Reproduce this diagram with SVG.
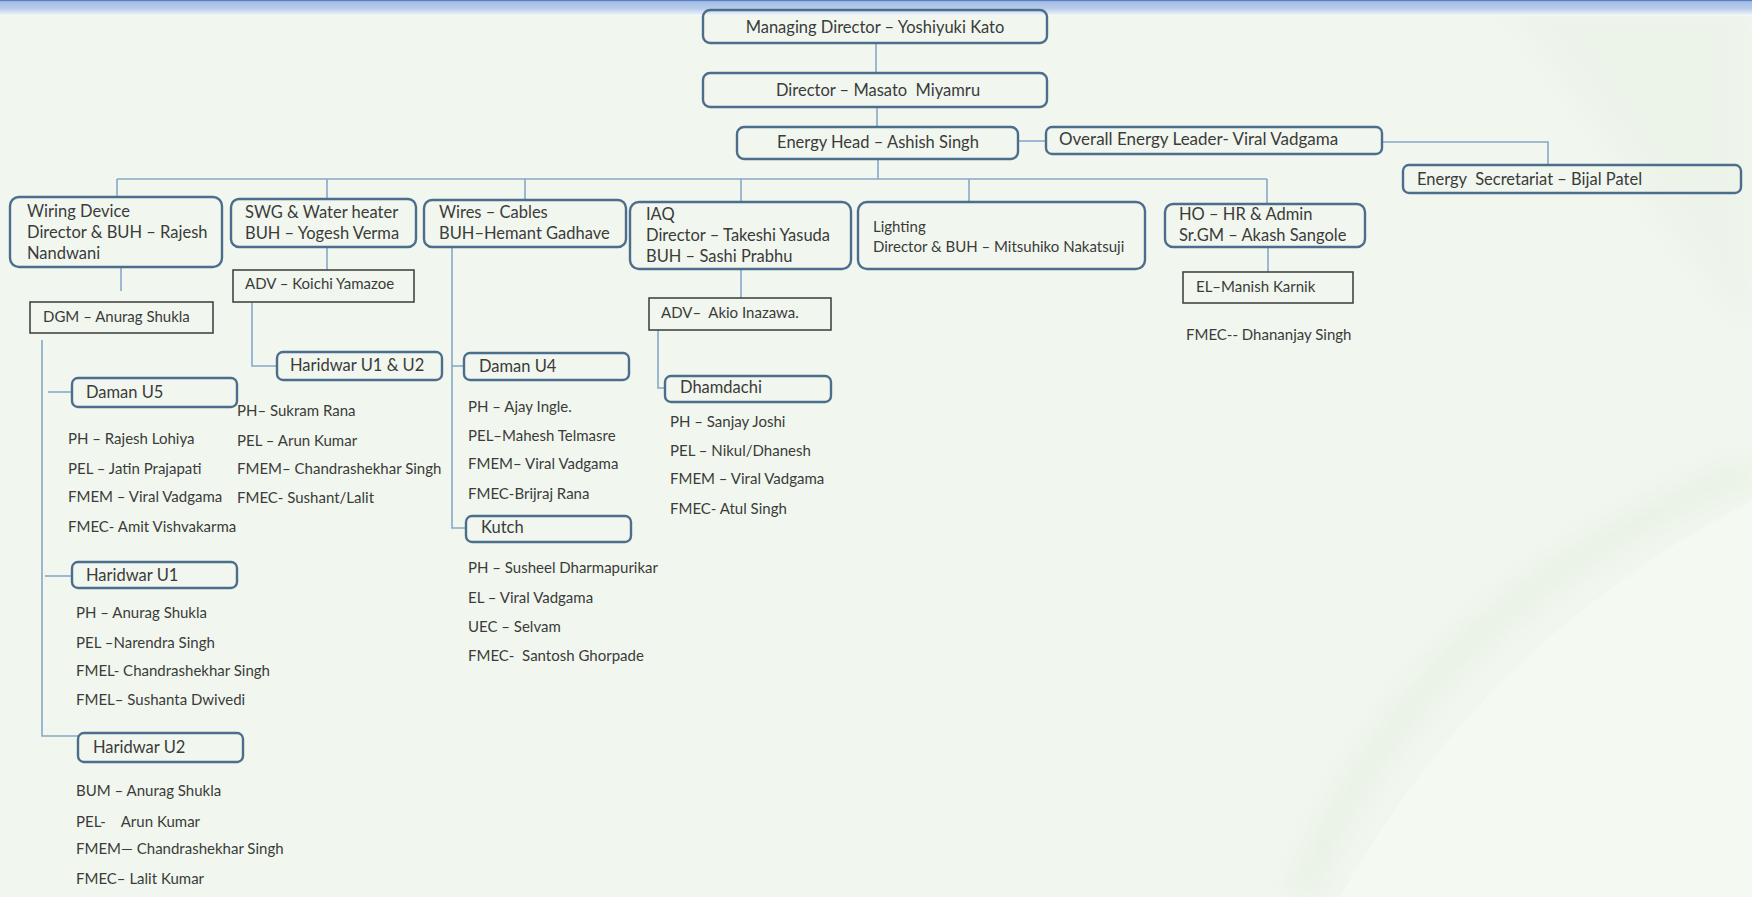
<svg xmlns="http://www.w3.org/2000/svg" width="1752" height="897" viewBox="0 0 1752 897">
<defs>
<linearGradient id="band" x1="0" y1="0" x2="0" y2="1">
<stop offset="0" stop-color="#3565b4"/>
<stop offset="0.1" stop-color="#a5bde5"/>
<stop offset="0.55" stop-color="#b9cdeb"/>
<stop offset="0.75" stop-color="#d6e2f3"/>
<stop offset="1" stop-color="#f7fbf6"/>
</linearGradient>
<filter id="blur" x="-20%" y="-20%" width="140%" height="140%"><feGaussianBlur stdDeviation="14"/></filter>
</defs>
<style>
text{font-family:Lato,"Liberation Sans",sans-serif;fill:#3b3b3b;white-space:pre}
.t1{font-size:16.5px}
.t2{font-size:16.5px}
.t3{font-size:15px}
.ls{font-size:15px}
.mid{text-anchor:middle}
.rb{fill:none;stroke:#4d6d8c;stroke-width:2.4}
.sq{fill:none;stroke:#454545;stroke-width:1.6}
.cn{fill:none;stroke:#86a8c8;stroke-width:1.6}
</style>
<rect width="1752" height="897" fill="#f1f7ee"/>
<g id="background">
<path d="M1300 897 C1380 700 1520 560 1752 470" fill="none" stroke="#e1eadd" stroke-width="24" filter="url(#blur)" opacity="0.6"/>
<path d="M1500 0 C1600 120 1680 260 1752 330 L1752 0 Z" fill="#eaf1e7" filter="url(#blur)" opacity="0.6"/>
<path d="M1340 897 C1450 700 1600 580 1752 500 L1752 897 Z" fill="#f6faf3" opacity="0.6"/>
<rect x="0" y="0" width="1752" height="16" fill="url(#band)"/>
</g>
<g id="connectors">
<path class="cn" d="M876 43V73"/>
<path class="cn" d="M877 107V127"/>
<path class="cn" d="M1018 141H1046"/>
<path class="cn" d="M1382 142H1548V165"/>
<path class="cn" d="M878 159V179"/>
<path class="cn" d="M117 179H1267"/>
<path class="cn" d="M117 179V197M327 179V199M525 179V200M741 179V202M969 179V202M1267 179V204"/>
<path class="cn" d="M121 267V291"/>
<path class="cn" d="M327 247V270"/>
<path class="cn" d="M252 302V366H277"/>
<path class="cn" d="M452 247V528H466"/>
<path class="cn" d="M452 366H464"/>
<path class="cn" d="M741 269V298"/>
<path class="cn" d="M658 330V388H665"/>
<path class="cn" d="M1268 247V272"/>
<path class="cn" d="M42 340V736H78"/>
<path class="cn" d="M48 392H72"/>
<path class="cn" d="M45 576H72"/>
</g>
<g id="md"><rect class="rb" x="703" y="10" width="344" height="33" rx="7"/><text class="t1 mid" x="875" y="33">Managing Director – Yoshiyuki Kato</text></g>
<g id="director"><rect class="rb" x="703" y="73" width="344" height="34" rx="7"/><text class="t1 mid" x="878" y="96">Director – Masato  Miyamru</text></g>
<g id="energy-head"><rect class="rb" x="737" y="127" width="281" height="32" rx="7"/><text class="t1 mid" x="878" y="148">Energy Head – Ashish Singh</text></g>
<g id="overall-leader"><rect class="rb" x="1046" y="127" width="336" height="27" rx="6"/><text class="t2" x="1059" y="145" style="font-size:17px">Overall Energy Leader- Viral Vadgama</text></g>
<g id="secretariat"><rect class="rb" x="1403" y="165" width="338" height="28" rx="6"/><text class="t2" x="1417" y="185">Energy  Secretariat – Bijal Patel</text></g>
<g id="wiring"><rect class="rb" x="10" y="197" width="212" height="70" rx="9"/><text class="t2" x="27" y="217">Wiring Device</text><text class="t2" x="27" y="238">Director &amp; BUH – Rajesh</text><text class="t2" x="27" y="259">Nandwani</text></g>
<g id="swg"><rect class="rb" x="231" y="199" width="185" height="48" rx="8"/><text class="t2" x="245" y="218">SWG &amp; Water heater</text><text class="t2" x="245" y="239">BUH – Yogesh Verma</text></g>
<g id="wires"><rect class="rb" x="424" y="200" width="202" height="47" rx="8"/><text class="t2" x="439" y="218">Wires – Cables</text><text class="t2" x="439" y="239">BUH–Hemant Gadhave</text></g>
<g id="iaq"><rect class="rb" x="630" y="202" width="221" height="67" rx="9"/><text class="t2" x="646" y="220">IAQ</text><text class="t2" x="646" y="241">Director – Takeshi Yasuda</text><text class="t2" x="646" y="262">BUH – Sashi Prabhu</text></g>
<g id="lighting"><rect class="rb" x="858" y="202" width="287" height="67" rx="9"/><text class="t3" x="873" y="232">Lighting</text><text class="t3" x="873" y="252">Director &amp; BUH – Mitsuhiko Nakatsuji</text></g>
<g id="ho"><rect class="rb" x="1165" y="204" width="200" height="43" rx="8"/><text class="t2" x="1179" y="220">HO – HR &amp; Admin</text><text class="t2" x="1179" y="241">Sr.GM – Akash Sangole</text></g>
<g id="adv-koichi"><rect class="sq" x="233" y="270" width="181" height="32"/><text class="ls" x="245" y="289">ADV – Koichi Yamazoe</text></g>
<g id="dgm"><rect class="sq" x="30" y="302" width="183" height="31"/><text class="ls" x="43" y="322">DGM – Anurag Shukla</text></g>
<g id="adv-akio"><rect class="sq" x="649" y="298" width="182" height="32"/><text class="ls" x="661" y="318">ADV–  Akio Inazawa.</text></g>
<g id="el-manish"><rect class="sq" x="1183" y="272" width="170" height="31"/><text class="ls" x="1196" y="292">EL–Manish Karnik</text></g>
<g id="ho-list"><text class="ls" x="1186" y="340">FMEC-- Dhananjay Singh</text></g>
<g id="haridwar-u1u2"><rect class="rb" x="277" y="352" width="165" height="28" rx="6"/><text class="t1" x="290" y="371">Haridwar U1 &amp; U2</text></g>
<g id="haridwar-u1u2-list"><text class="ls" x="237" y="416">PH– Sukram Rana</text><text class="ls" x="237" y="446">PEL – Arun Kumar</text><text class="ls" x="237" y="474">FMEM– Chandrashekhar Singh</text><text class="ls" x="237" y="503">FMEC- Sushant/Lalit</text></g>
<g id="daman-u4"><rect class="rb" x="464" y="353" width="165" height="27" rx="6"/><text class="t1" x="479" y="372">Daman U4</text></g>
<g id="daman-u4-list"><text class="ls" x="468" y="412">PH – Ajay Ingle.</text><text class="ls" x="468" y="441">PEL–Mahesh Telmasre</text><text class="ls" x="468" y="469">FMEM– Viral Vadgama</text><text class="ls" x="468" y="499">FMEC-Brijraj Rana</text></g>
<g id="kutch"><rect class="rb" x="466" y="516" width="165" height="26" rx="6"/><text class="t1" x="481" y="533">Kutch</text></g>
<g id="kutch-list"><text class="ls" x="468" y="573">PH – Susheel Dharmapurikar</text><text class="ls" x="468" y="603">EL – Viral Vadgama</text><text class="ls" x="468" y="632">UEC – Selvam</text><text class="ls" x="468" y="661">FMEC-  Santosh Ghorpade</text></g>
<g id="dhamdachi"><rect class="rb" x="665" y="376" width="166" height="26" rx="6"/><text class="t1" x="680" y="393">Dhamdachi</text></g>
<g id="dhamdachi-list"><text class="ls" x="670" y="427">PH – Sanjay Joshi</text><text class="ls" x="670" y="456">PEL – Nikul/Dhanesh</text><text class="ls" x="670" y="484">FMEM – Viral Vadgama</text><text class="ls" x="670" y="514">FMEC- Atul Singh</text></g>
<g id="daman-u5"><rect class="rb" x="72" y="378" width="165" height="29" rx="6"/><text class="t1" x="86" y="398">Daman U5</text></g>
<g id="daman-u5-list"><text class="ls" x="68" y="444">PH – Rajesh Lohiya</text><text class="ls" x="68" y="474">PEL – Jatin Prajapati</text><text class="ls" x="68" y="502">FMEM – Viral Vadgama</text><text class="ls" x="68" y="532">FMEC- Amit Vishvakarma</text></g>
<g id="haridwar-u1"><rect class="rb" x="72" y="562" width="165" height="26" rx="6"/><text class="t1" x="86" y="581">Haridwar U1</text></g>
<g id="haridwar-u1-list"><text class="ls" x="76" y="618">PH – Anurag Shukla</text><text class="ls" x="76" y="648">PEL –Narendra Singh</text><text class="ls" x="76" y="676">FMEL- Chandrashekhar Singh</text><text class="ls" x="76" y="705">FMEL– Sushanta Dwivedi</text></g>
<g id="haridwar-u2"><rect class="rb" x="78" y="733" width="165" height="29" rx="6"/><text class="t1" x="93" y="753">Haridwar U2</text></g>
<g id="haridwar-u2-list"><text class="ls" x="76" y="796">BUM – Anurag Shukla</text><text class="ls" x="76" y="827">PEL-    Arun Kumar</text><text class="ls" x="76" y="854">FMEM— Chandrashekhar Singh</text><text class="ls" x="76" y="884">FMEC– Lalit Kumar</text></g>
</svg>
